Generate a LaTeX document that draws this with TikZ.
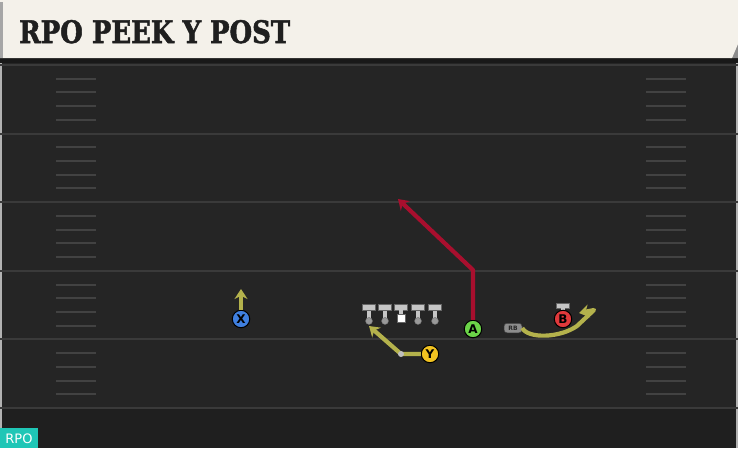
\documentclass[tikz,border=0pt]{standalone}
\usepackage{fontspec}
\setsansfont{DejaVu Sans}
\newfontfamily\titlefont[FakeBold=1.6]{DejaVu Serif Condensed Bold}
\usetikzlibrary{arrows.meta}
\definecolor{field}{HTML}{252525}
\definecolor{yardline}{HTML}{3A3A3A}
\definecolor{hashmark}{HTML}{424242}
\definecolor{cream}{HTML}{F4F1EA}
\definecolor{olive}{HTML}{B4B24C}
\definecolor{crimson}{HTML}{A80F2E}
\definecolor{xblue}{HTML}{3F7FDF}
\definecolor{agreen}{HTML}{6BD448}
\definecolor{bred}{HTML}{E0393B}
\definecolor{yyellow}{HTML}{F1C220}
\definecolor{lineman}{HTML}{C6C6C6}
\definecolor{teal}{HTML}{1FC6B6}
\begin{document}
\begin{tikzpicture}[x=1pt, y=-1pt, font=\sffamily,
    player/.style={circle, draw=black, line width=1pt, minimum size=17.5pt, inner sep=0pt, font=\sffamily\bfseries\fontsize{12}{12}\selectfont},
    route/.style={line width=4.2pt, line join=round, -{Stealth[length=10pt, width=13pt]}},
    tbar/.style={fill=lineman, draw=black!60, line width=0.4pt}]
    \useasboundingbox (0,0) rectangle (738,448);
    % field
    \fill[field] (0,0) rectangle (738,448);
    \fill[black!88] (0,408) rectangle (738,448);
    \fill[black!30] (0,62) rectangle (2,448);
    \fill[black!30] (736,62) rectangle (738,448);
    \foreach \i in {0,...,5}
        \draw[yardline, line width=2pt] (0,65+68.6*\i) -- (738,65+68.6*\i);
    \foreach \i in {0,...,4}
        \foreach \j in {1,...,4} {
            \draw[hashmark, line width=2pt] (56,65+68.6*\i+13.72*\j) -- (96,65+68.6*\i+13.72*\j);
            \draw[hashmark, line width=2pt] (646,65+68.6*\i+13.72*\j) -- (686,65+68.6*\i+13.72*\j);
        }
    % header
    \fill[black!90] (0,57) rectangle (738,63);
    \fill[black!45] (738,40) -- (738,58) -- (730,58) -- cycle;
    \fill[cream] (0,0) -- (738,0) -- (738,44) -- (732,58) -- (0,58) -- cycle;
    \fill[black!35] (0,2) rectangle (3,58);
    \node[anchor=base west, inner sep=0pt, text=black!88, xscale=0.93, font=\titlefont\fontsize{31}{31}\selectfont] (title) at (19,43) {RPO PEEK Y POST};
    % offensive line
    \foreach \x/\n in {369/lt, 385/lg, 418/rg, 435/rt} {
        \draw[lineman, line width=4pt] (\x,308) -- (\x,319);
        \fill[tbar] (\x-6.5,304.5) rectangle (\x+6.5,310);
        \node[circle, fill=black!40, draw=black!60, line width=0.4pt, minimum size=7pt, inner sep=0pt] (\n) at (\x,321) {};
    }
    \fill[tbar] (394.5,304.5) rectangle (407.5,310);
    \draw[lineman, line width=4pt] (401,309) -- (401,314);
    \node[rectangle, fill=white, draw=black!60, line width=0.4pt, minimum size=8pt, inner sep=0pt] (c) at (401,318) {};
    % players
    \node[player, fill=xblue] (x) at (241,319) {X};
    \node[player, fill=agreen] (a) at (473,329) {A};
    \node[player, fill=yyellow] (y) at (430,354) {Y};
    \fill[tbar] (556.5,303.5) rectangle (569.5,308);
    \draw[lineman, line width=4pt] (563,307) -- (563,311);
    \node[player, fill=bred] (b) at (563,319) {B};
    \node[fill=black!45, draw=black!75, line width=0.5pt, rounded corners=3pt, minimum width=18pt, minimum height=9.5pt, inner sep=0pt, font=\sffamily\bfseries\fontsize{6}{6}\selectfont, text=black!85] (rb) at (513,328) {RB};
    % routes
    \coordinate (xend) at (241,289);
    \coordinate (ybend) at (401,354);
    \coordinate (yend) at (369,326);
    \coordinate (abend) at (473,270);
    \coordinate (aend) at (398,199);
    \coordinate (rbend) at (579,313);
    \draw[route, olive] (x) -- (xend);
    \draw[route, olive] (y) -- (ybend) -- (yend);
    \fill[black!25] (ybend) circle (3pt);
    \draw[route, crimson] (a) -- (abend) -- (aend);
    \draw[route, olive] (rb.east) .. controls (528,339) and (560,338) .. (577,326) -- (594,310) -- (rbend);
    % tag
    \fill[teal] (0,428) rectangle (38,448);
    \node[text=white, font=\sffamily\fontsize{13}{13}\selectfont, inner sep=0pt] (tag) at (19,438.5) {RPO};
\end{tikzpicture}
\end{document}
